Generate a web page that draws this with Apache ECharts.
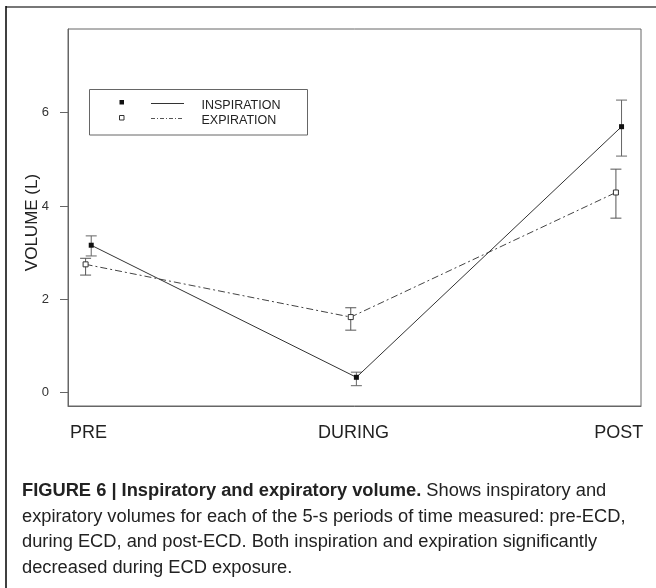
<!DOCTYPE html>
<html><head><meta charset="utf-8">
<script src="https://cdn.jsdelivr.net/npm/echarts@6/dist/echarts.min.js"></script>
<style>html,body{margin:0;padding:0;background:#fff}#c{width:656px;height:588px}</style>
</head><body><div id="c"></div>
<script>
// ---- data ----
const categories = ['PRE', 'DURING', 'POST'];
const seriesNames = ['INSPIRATION', 'EXPIRATION'];
const inspiration = [3.16, 0.33, 5.70];
const inspirationLow = [2.93, 0.15, 5.07];
const inspirationHigh = [3.36, 0.44, 6.27];
const expiration = [2.75, 1.62, 4.29];
const expirationLow = [2.52, 1.34, 3.74];
const expirationHigh = [2.88, 1.82, 4.79];
const yTicks = [0, 2, 4, 6];
const yAxisName = 'VOLUME (L)';
const captionBold = 'FIGURE 6 | Inspiratory and expiratory volume.';
const captionLines = [
  ' Shows inspiratory and',
  'expiratory volumes for each of the 5-s periods of time measured: pre-ECD,',
  'during ECD, and post-ECD. Both inspiration and expiration significantly',
  'decreased during ECD exposure.'
];

// ---- layout / style ----
const FONT = "'Liberation Sans', Arial, sans-serif";
const DODGE = 0.0106;
const catIdx = categories.map((c, i) => i);
const inspPts = catIdx.map(i => [i + DODGE, inspiration[i]]);
const expPts = catIdx.map(i => [i - DODGE, expiration[i]]);
const inspErr = catIdx.map(i => [i + DODGE, inspirationLow[i], inspirationHigh[i]]);
const expErr = catIdx.map(i => [i - DODGE, expirationLow[i], expirationHigh[i]]);

function errRender(color) {
  return function (params, api) {
    const x = api.value(0), lo = api.value(1), hi = api.value(2);
    const a = api.coord([x, lo]), b = api.coord([x, hi]);
    const hw = 5.5;
    const st = { stroke: color, lineWidth: 1 };
    return {
      type: 'group', children: [
        { type: 'line', shape: { x1: a[0], y1: a[1], x2: b[0], y2: b[1] }, style: st },
        { type: 'line', shape: { x1: b[0] - hw, y1: b[1], x2: b[0] + hw, y2: b[1] }, style: st },
        { type: 'line', shape: { x1: a[0] - hw, y1: a[1], x2: a[0] + hw, y2: a[1] }, style: st }
      ]
    };
  };
}

const chart = echarts.init(document.getElementById('c'), null, { renderer: 'canvas' });
const capStyle = { fontFamily: FONT, fontSize: 18.3, fill: '#222', verticalAlign: 'middle' };
const capY = [491, 516.5, 542, 567.5];

chart.setOption({
  animation: false,
  backgroundColor: '#fff',
  textStyle: { fontFamily: FONT },
  grid: { left: 68, top: 29, width: 573, height: 377, show: true, borderColor: '#666', borderWidth: 1, containLabel: false, outerBoundsMode: 'none' },
  xAxis: {
    type: 'value', min: -0.077, max: 2.084,
    splitLine: { show: false },
    axisLine: { show: true, onZero: false, lineStyle: { color: '#666', width: 1 } },
    axisTick: { show: false },
    axisLabel: {
      customValues: catIdx, margin: 18,
      formatter: v => categories[Math.round(v)] || '',
      fontSize: 18, color: '#222', fontFamily: FONT
    }
  },
  yAxis: {
    type: 'value', min: -0.285, max: 7.793,
    splitLine: { show: false },
    axisLine: { show: true, onZero: false, lineStyle: { color: '#666', width: 1 } },
    axisTick: { show: true, customValues: yTicks, length: 8, lineStyle: { color: '#666' } },
    axisLabel: { customValues: yTicks, margin: 19, fontSize: 13, color: '#333', fontFamily: FONT },
    name: yAxisName, nameLocation: 'middle', nameGap: 27, nameRotate: 90, nameMoveOverlap: false,
    nameTextStyle: { fontSize: 17, color: '#222', fontFamily: FONT, padding: [0, 10, 0, 0] }
  },
  series: [
    { type: 'custom', name: seriesNames[1] + ' err', renderItem: errRender('#555'), data: expErr, encode: { x: 0, y: [1, 2] }, z: 2 },
    { type: 'custom', name: seriesNames[0] + ' err', renderItem: errRender('#666'), data: inspErr, encode: { x: 0, y: [1, 2] }, z: 2 },
    {
      type: 'line', name: seriesNames[1], data: expPts, symbol: 'rect', symbolSize: 5,
      itemStyle: { color: '#fff', borderColor: '#333', borderWidth: 1 },
      lineStyle: { color: '#444', width: 1, type: [7, 3, 2, 3] }, z: 3
    },
    {
      type: 'line', name: seriesNames[0], data: inspPts, symbol: 'rect', symbolSize: 5,
      itemStyle: { color: '#111', borderColor: '#111', borderWidth: 0 },
      lineStyle: { color: '#333', width: 1, type: 'solid' }, z: 4
    }
  ],
  graphic: [
    { type: 'line', shape: { x1: 6, y1: 7, x2: 656, y2: 7 }, style: { stroke: '#777', lineWidth: 2 } },
    { type: 'line', shape: { x1: 6, y1: 6, x2: 6, y2: 588 }, style: { stroke: '#000', lineWidth: 1.5 } },
    // legend box
    { type: 'rect', shape: { x: 89.5, y: 89.5, width: 218, height: 45.5 }, style: { fill: '#fff', stroke: '#666', lineWidth: 1 }, z: 10 },
    { type: 'rect', shape: { x: 119.5, y: 100, width: 4.5, height: 4.5 }, style: { fill: '#111' }, z: 11 },
    { type: 'line', shape: { x1: 151, y1: 103.5, x2: 184, y2: 103.5 }, style: { stroke: '#333', lineWidth: 1 }, z: 11 },
    { type: 'text', x: 201.5, y: 105.5, style: { text: seriesNames[0], fontFamily: FONT, fontSize: 12.5, fill: '#222', verticalAlign: 'middle' }, z: 11 },
    { type: 'rect', shape: { x: 119.5, y: 115.5, width: 4.5, height: 4.5 }, style: { fill: '#fff', stroke: '#333', lineWidth: 1 }, z: 11 },
    { type: 'line', shape: { x1: 151, y1: 118.5, x2: 184, y2: 118.5 }, style: { stroke: '#555', lineWidth: 1, lineDash: [4, 2, 1, 2] }, z: 11 },
    { type: 'text', x: 201.5, y: 121, style: { text: seriesNames[1], fontFamily: FONT, fontSize: 12.5, fill: '#222', verticalAlign: 'middle' }, z: 11 },
    // caption
    {
      type: 'text', x: 22, y: capY[0],
      style: {
        text: '{b|' + captionBold + '}{n|' + captionLines[0] + '}',
        rich: {
          b: { fontFamily: FONT, fontSize: 18.3, fontWeight: 'bold', fill: '#222' },
          n: { fontFamily: FONT, fontSize: 18.3, fill: '#222' }
        },
        verticalAlign: 'middle'
      }
    },
    { type: 'text', x: 22, y: capY[1], style: Object.assign({ text: captionLines[1] }, capStyle) },
    { type: 'text', x: 22, y: capY[2], style: Object.assign({ text: captionLines[2] }, capStyle) },
    { type: 'text', x: 22, y: capY[3], style: Object.assign({ text: captionLines[3] }, capStyle) }
  ]
});
</script>
</body></html>
